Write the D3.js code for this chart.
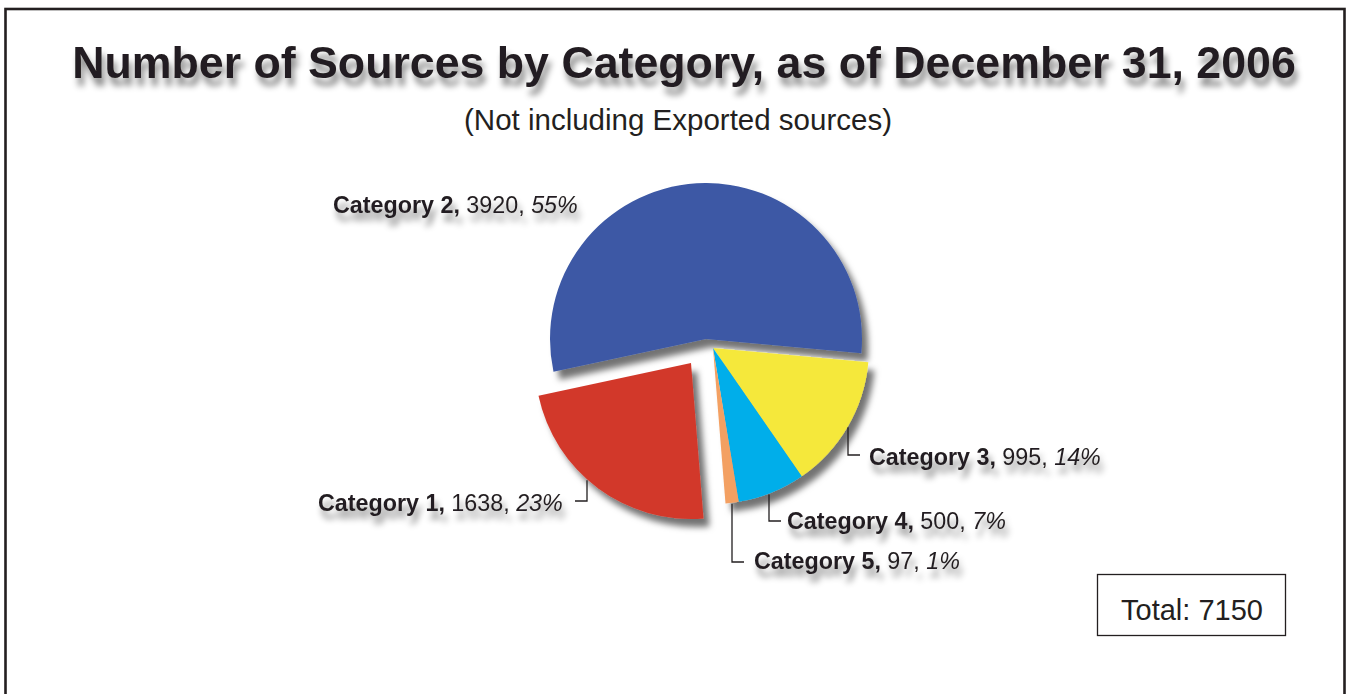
<!DOCTYPE html>
<html>
<head>
<meta charset="utf-8">
<script src="https://cdn.jsdelivr.net/npm/d3@7"></script>
<style>
  html, body { margin: 0; padding: 0; background: #fff; }
  svg { display: block; font-family: Arial, "Liberation Sans", Helvetica, sans-serif; }
</style>
</head>
<body>
<svg id="chart" width="1349" height="694"></svg>
<script>
// ---- data ----
const categories = ["Category 1", "Category 2", "Category 3", "Category 4", "Category 5"];
const values = [1638, 3920, 995, 500, 97];
const percents = ["23%", "55%", "14%", "7%", "1%"];
const colors = ["#d2392b", "#3d59a5", "#f5e83b", "#00aeea", "#f3a062"];
const titleText = "Number of Sources by Category, as of December 31, 2006";
const subtitleText = "(Not including Exported sources)";
const totalLabel = "Total: 7150";

// ---- layout ----
const W = 1349, H = 694;
const cx = 713, cy = 348, R = 156;
const rad = d => d * Math.PI / 180;
const startDeg = 175.4;
// explode offsets per slice (x, y)
const explode = [[-22, 15], [-7, -9], [0, 0], [0, 0], [0, 0]];
// label layout: leader x (on the arc), elbow y, label x, baseline y
const labelLayout = [
  { lx: 587, ey: 501, dir: -1, tx: 318, ty: 511, anchor: "start" },
  { lx: null, tx: 333, ty: 212.5, anchor: "start" },
  { lx: 848, ey: 455, dir: 1, tx: 869, ty: 465, anchor: "start" },
  { lx: 769, ey: 521, dir: 1, tx: 787, ty: 528.5, anchor: "start" },
  { lx: 732, ey: 562, dir: 1, tx: 754, ty: 569, anchor: "start" }
];

const svg = d3.select("#chart");
const defs = svg.append("defs");

function shadowFilter(id, dx, dy, sd, op) {
  const f = defs.append("filter").attr("id", id)
    .attr("x", "-20%").attr("y", "-20%").attr("width", "140%").attr("height", "160%");
  f.append("feGaussianBlur").attr("in", "SourceAlpha").attr("stdDeviation", sd).attr("result", "b");
  f.append("feOffset").attr("in", "b").attr("dx", dx).attr("dy", dy).attr("result", "o");
  f.append("feFlood").attr("flood-color", "#000").attr("flood-opacity", op).attr("result", "c");
  f.append("feComposite").attr("in", "c").attr("in2", "o").attr("operator", "in").attr("result", "s");
  const m = f.append("feMerge");
  m.append("feMergeNode").attr("in", "s");
  m.append("feMergeNode").attr("in", "SourceGraphic");
}
shadowFilter("pieShadow", 6, 8, 3, 0.55);
shadowFilter("textShadow", 3, 8, 3.2, 0.45);

// frame
svg.append("rect")
  .attr("x", 5.5).attr("y", 9).attr("width", 1339).attr("height", 700)
  .attr("fill", "none").attr("stroke", "#231f20").attr("stroke-width", 2.6);

// title
svg.append("text")
  .attr("x", 684).attr("y", 78)
  .attr("text-anchor", "middle")
  .attr("font-size", 44.7).attr("font-weight", "bold")
  .attr("fill", "#231f20")
  .attr("filter", "url(#textShadow)")
  .text(titleText);

svg.append("text")
  .attr("x", 678).attr("y", 130)
  .attr("text-anchor", "middle")
  .attr("font-size", 29.5)
  .attr("fill", "#231f20")
  .text(subtitleText);

// pie
const pie = d3.pie().sort(null).value(d => d)
  .startAngle(rad(startDeg)).endAngle(rad(startDeg + 360));
const arcs = pie(values);
const arc = d3.arc().innerRadius(0).outerRadius(R);

const pieG = svg.append("g")
  .attr("transform", `translate(${cx},${cy})`)
  .attr("filter", "url(#pieShadow)");

pieG.selectAll("path").data(arcs).join("path")
  .attr("d", arc)
  .attr("fill", (d, i) => colors[i])
  .attr("transform", (d, i) => `translate(${explode[i][0]},${explode[i][1]})`);

// leader lines
const leaderG = svg.append("g").attr("stroke", "#231f20").attr("stroke-width", 1.3).attr("fill", "none");
arcs.forEach((a, i) => {
  const L = labelLayout[i];
  if (L.lx == null) return;
  const ox = cx + explode[i][0], oy = cy + explode[i][1];
  const dx = L.lx - ox;
  const sy = oy + Math.sqrt(Math.max(0, R * R - dx * dx)) + 1;
  leaderG.append("path")
    .attr("d", `M${L.lx},${sy} V${L.ey} H${L.lx + L.dir * 12}`);
});

// labels
const labelG = svg.append("g").attr("fill", "#231f20").attr("font-size", 23.3)
  .attr("filter", "url(#textShadow)");
categories.forEach((c, i) => {
  const L = labelLayout[i];
  const t = labelG.append("text").attr("x", L.tx).attr("y", L.ty).attr("text-anchor", L.anchor);
  t.append("tspan").attr("font-weight", "bold").text(c + ",");
  t.append("tspan").text(" " + values[i] + ", ");
  t.append("tspan").attr("font-style", "italic").text(percents[i]);
});

// total box
svg.append("rect")
  .attr("x", 1097.5).attr("y", 574.5).attr("width", 188).attr("height", 61)
  .attr("fill", "#fff").attr("stroke", "#231f20").attr("stroke-width", 1.3);
svg.append("text")
  .attr("x", 1192).attr("y", 620)
  .attr("text-anchor", "middle")
  .attr("font-size", 29)
  .attr("fill", "#231f20")
  .text(totalLabel);
</script>
</body>
</html>
